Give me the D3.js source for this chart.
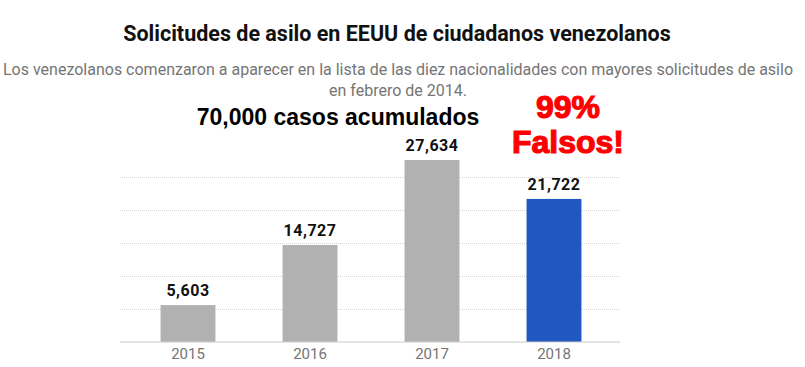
<!DOCTYPE html>
<html>
<head>
<meta charset="utf-8">
<script src="https://cdn.jsdelivr.net/npm/d3@7"></script>
<style>
  body { margin: 0; background: #fff; }
  svg { display: block; }
</style>
</head>
<body>
<svg id="asylum-chart"></svg>
<script>
// data
const years = ["2015", "2016", "2017", "2018"];
const requests = [5603, 14727, 27634, 21722];
const barColors = ["#b1b1b1", "#b1b1b1", "#b1b1b1", "#2157c0"];
const gridValues = [5000, 10000, 15000, 20000, 25000];

const width = 805, height = 367;
const svg = d3.select("#asylum-chart").attr("width", width).attr("height", height);

// scales
const x = d3.scaleBand().domain(years).range([127, 615]).paddingInner(0.55).paddingOuter(0.275);
const y = d3.scaleLinear().domain([0, 30000]).range([342, 144.4]);

// gridlines (dotted)
svg.append("g")
    .selectAll("line")
    .data(gridValues)
    .join("line")
    .attr("x1", 120).attr("x2", 620)
    .attr("y1", d => Math.round(y(d)) + 0.5).attr("y2", d => Math.round(y(d)) + 0.5)
    .attr("stroke", "#d6d6d6")
    .attr("stroke-dasharray", "1,1");

// bars
const rows = years.map((yr, i) => ({ year: yr, value: requests[i], color: barColors[i] }));
svg.append("g")
    .selectAll("rect")
    .data(rows)
    .join("rect")
    .attr("x", d => x(d.year))
    .attr("y", d => y(d.value))
    .attr("width", x.bandwidth())
    .attr("height", d => y(0) - y(d.value))
    .attr("fill", d => d.color);

// baseline
svg.append("line")
    .attr("x1", 120).attr("x2", 620)
    .attr("y1", 342).attr("y2", 342)
    .attr("stroke", "#cccccc");

// value labels
svg.append("g")
    .selectAll("text")
    .data(rows)
    .join("text")
    .attr("x", d => x(d.year) + x.bandwidth() / 2)
    .attr("y", d => y(d.value) - 9)
    .attr("text-anchor", "middle")
    .attr("font-family", "Roboto, sans-serif")
    .attr("font-weight", "bold")
    .attr("font-size", "16px")
    .attr("letter-spacing", "0.5px")
    .attr("fill", "#111")
    .text(d => d3.format(",")(d.value));

// x axis labels
const xAxis = svg.append("g")
    .attr("transform", "translate(0,342)")
    .call(d3.axisBottom(x).tickSize(0).tickPadding(6));
xAxis.select(".domain").remove();
xAxis.selectAll("text")
    .attr("font-family", "Roboto, sans-serif")
    .attr("font-size", "15px")
    .attr("fill", "#757575");

// titles
svg.append("text")
    .attr("x", 397).attr("y", 41)
    .attr("text-anchor", "middle")
    .attr("font-family", "Roboto, sans-serif")
    .attr("font-weight", "bold")
    .attr("font-size", "21.5px")
    .attr("fill", "#111")
    .text("Solicitudes de asilo en EEUU de ciudadanos venezolanos");

const sub = svg.append("text")
    .attr("text-anchor", "middle")
    .attr("font-family", "Roboto, sans-serif")
    .attr("font-size", "16px")
    .attr("fill", "#757575");
sub.append("tspan").attr("x", 398).attr("y", 75)
    .text("Los venezolanos comenzaron a aparecer en la lista de las diez nacionalidades con mayores solicitudes de asilo");
sub.append("tspan").attr("x", 398).attr("y", 96)
    .text("en febrero de 2014.");

svg.append("text")
    .attr("x", 338).attr("y", 125)
    .attr("text-anchor", "middle")
    .attr("font-family", "Liberation Sans, Arial, sans-serif")
    .attr("font-weight", "bold")
    .attr("font-size", "23px")
    .attr("fill", "#000")
    .text("70,000 casos acumulados");

// red annotation
const redNote = [["99%", 118], ["Falsos!", 153]];
svg.append("g")
    .selectAll("text")
    .data(redNote)
    .join("text")
    .attr("x", 568).attr("y", d => d[1])
    .attr("text-anchor", "middle")
    .attr("font-family", "Liberation Sans, Arial, sans-serif")
    .attr("font-weight", "bold")
    .attr("font-size", "32px")
    .attr("fill", "#ff0000")
    .attr("stroke", "#ff0000")
    .attr("stroke-width", 1.2)
    .text(d => d[0]);
</script>
</body>
</html>
